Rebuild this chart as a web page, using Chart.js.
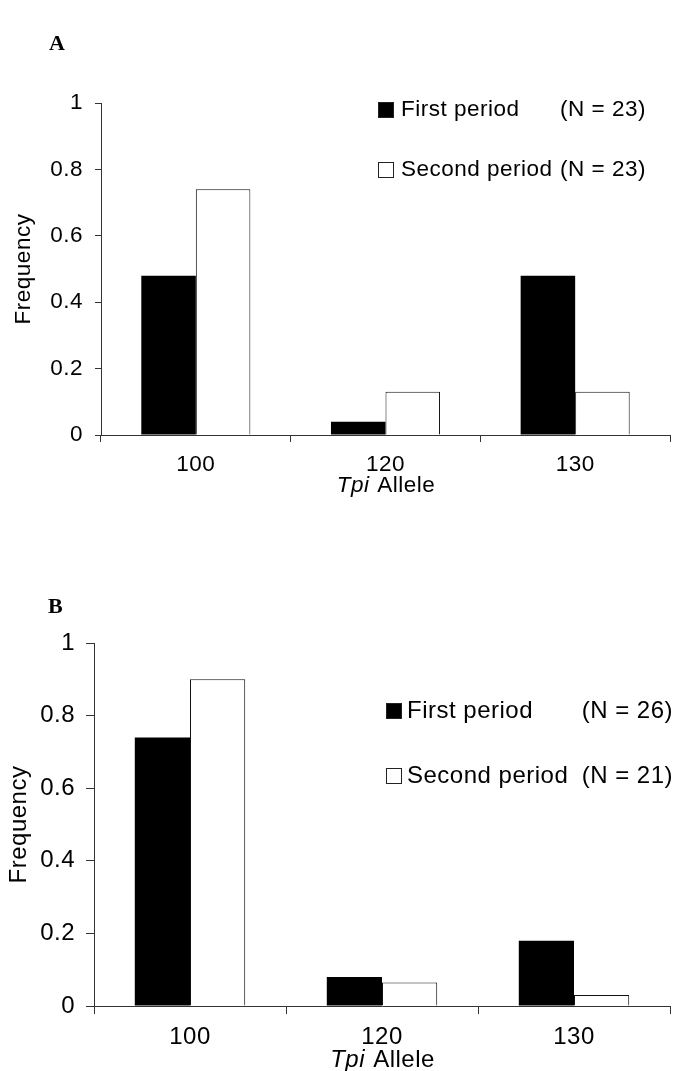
<!DOCTYPE html>
<html>
<head>
<meta charset="utf-8">
<script src="https://cdn.jsdelivr.net/npm/chart.js@4.4.1/dist/chart.umd.min.js"></script>
<style>
  html, body { margin: 0; padding: 0; background: #fff; }
  canvas { display: block; }
</style>
</head>
<body>
<canvas id="chartA" width="674" height="535"></canvas>
<canvas id="chartB" width="674" height="536"></canvas>
<script>
// ---- data ----
const alleles = ['100', '120', '130'];
const seriesNames = ['First period', 'Second period'];
const yTicks = [0, 0.2, 0.4, 0.6, 0.8, 1];

const panelA_first  = [0.48, 0.04, 0.48];
const panelA_second = [0.74, 0.13, 0.13];
const panelA_N = ['(N = 23)', '(N = 23)'];

const panelB_first  = [0.74, 0.08, 0.18];
const panelB_second = [0.90, 0.065, 0.03];
const panelB_N = ['(N = 26)', '(N = 21)'];

const yTitle = 'Frequency';
const xTitleItalic = 'Tpi';
const xTitleRest = ' Allele';

// ---- drawing ----
const FONT = "'Liberation Sans', Arial, sans-serif";
const AXIS = '#333333';

const extrasPlugin = {
  id: 'extras',
  beforeDraw(chart, args, o) {
    chart.ctx.letterSpacing = o.spacing;
  },
  afterDraw(chart, args, o) {
    const ctx = chart.ctx;
    const fs = o.fs;
    ctx.save();
    ctx.letterSpacing = '0px';
    // panel letter
    ctx.fillStyle = '#000';
    ctx.font = "bold 22px 'Liberation Serif', 'Times New Roman', serif";
    ctx.textAlign = 'left';
    ctx.textBaseline = 'alphabetic';
    ctx.fillText(o.panel, o.panelX, o.panelY);
    ctx.letterSpacing = o.spacing;
    // legend
    ctx.font = fs + 'px ' + FONT;
    ctx.textBaseline = 'middle';
    chart.data.datasets.forEach((ds, i) => {
      const y = o.legendRows[i];
      const b = o.box;
      ctx.fillStyle = ds.backgroundColor;
      ctx.fillRect(o.boxX, y - b / 2, b, b);
      ctx.strokeStyle = '#222';
      ctx.lineWidth = 1;
      ctx.strokeRect(o.boxX + 0.5, y - b / 2 + 0.5, b - 1, b - 1);
      ctx.fillStyle = '#000';
      ctx.textAlign = 'left';
      ctx.fillText(ds.label, o.textX, y);
      ctx.textAlign = 'right';
      ctx.fillText(o.nLabels[i], o.nRight, y);
    });
    // x title with italic part
    const area = chart.chartArea;
    const cx = (area.left + area.right) / 2;
    ctx.textAlign = 'left';
    ctx.font = 'italic ' + fs + 'px ' + FONT;
    const w1 = ctx.measureText(xTitleItalic).width;
    ctx.font = fs + 'px ' + FONT;
    const w2 = ctx.measureText(xTitleRest).width;
    const x0 = cx - (w1 + w2) / 2;
    ctx.font = 'italic ' + fs + 'px ' + FONT;
    ctx.fillText(xTitleItalic, x0, o.xTitleY);
    ctx.font = fs + 'px ' + FONT;
    ctx.fillText(xTitleRest, x0 + w1 + 1, o.xTitleY);
    ctx.restore();
  }
};

function makeChart(id, first, second, cfg) {
  const fs = cfg.extras.fs;
  return new Chart(document.getElementById(id), {
    type: 'bar',
    data: {
      labels: alleles,
      datasets: [
        { label: seriesNames[0], data: first, backgroundColor: '#000000',
          borderColor: '#000000', borderWidth: 0,
          categoryPercentage: 0.575, barPercentage: 1.0 },
        { label: seriesNames[1], data: second, backgroundColor: '#ffffff',
          borderColor: '#111111', borderWidth: 1, borderSkipped: 'bottom',
          categoryPercentage: 0.575, barPercentage: 1.0 }
      ]
    },
    options: {
      responsive: false,
      animation: false,
      devicePixelRatio: 1,
      layout: { padding: { top: cfg.top, right: 4, left: 0, bottom: 0 } },
      plugins: {
        legend: { display: false },
        tooltip: { enabled: false },
        extras: cfg.extras
      },
      scales: {
        x: {
          grid: { drawOnChartArea: false, offset: true, tickLength: cfg.xTick, color: AXIS, lineWidth: 1 },
          border: { display: true, color: AXIS, width: 1 },
          ticks: { color: '#000', font: { family: FONT, size: fs }, padding: cfg.xPad, maxRotation: 0 },
          afterFit(scale) { scale.height = cfg.xHeight; }
        },
        y: {
          min: 0, max: 1,
          afterBuildTicks(scale) { scale.ticks = yTicks.map(v => ({ value: v })); },
          grid: { drawOnChartArea: false, tickLength: cfg.yTick, color: AXIS, lineWidth: 1 },
          border: { display: true, color: AXIS, width: 1 },
          ticks: { color: '#000', font: { family: FONT, size: fs }, padding: cfg.yPad,
                   callback: v => String(v) },
          title: { display: true, text: yTitle, color: '#000',
                   font: { family: FONT, size: fs }, padding: { top: cfg.titlePad, bottom: 0 } },
          afterFit(scale) { scale.width = cfg.yWidth; }
        }
      }
    },
    plugins: [extrasPlugin]
  });
}

makeChart('chartA', panelA_first, panelA_second, {
  top: 103, yWidth: 101, xHeight: 100, xPad: 9, xTick: 7, yTick: 6, yPad: 12, titlePad: 10,
  extras: { fs: 22.5, spacing: '0.5px', panel: 'A', panelX: 49, panelY: 50,
            legendRows: [110, 170], box: 16, boxX: 378, textX: 401, nLabels: panelA_N, nRight: 646,
            xTitleY: 486 }
});

makeChart('chartB', panelB_first, panelB_second, {
  top: 108, yWidth: 94, xHeight: 65, xPad: 9, xTick: 8, yTick: 8, yPad: 11, titlePad: 5,
  extras: { fs: 24, spacing: '0.5px', panel: 'B', panelX: 48, panelY: 78,
            legendRows: [176, 241], box: 16, boxX: 386, textX: 407, nLabels: panelB_N, nRight: 673,
            xTitleY: 525 }
});
</script>
</body>
</html>
